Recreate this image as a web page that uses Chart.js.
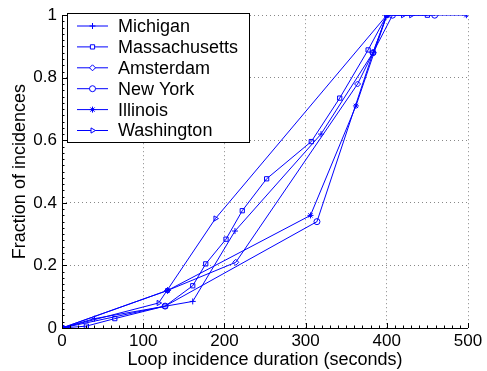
<!DOCTYPE html>
<html>
<head>
<meta charset="utf-8">
<script src="https://cdn.jsdelivr.net/npm/chart.js@4/dist/chart.umd.min.js"></script>
<style>
  html, body { margin: 0; padding: 0; background: #fff; }
  #wrap { width: 487px; height: 371px; }
</style>
</head>
<body>
<div id="wrap"><canvas id="chart"></canvas></div>
<script>
// Series values (x = seconds, y = fraction)
const michiganX = [0, 40, 161, 213, 319, 383, 400];
const michiganY = [0, 0.03, 0.085, 0.31, 0.62, 0.88, 1];
const massachusettsX = [0, 30, 65, 127, 161, 177, 202, 222, 252, 307, 342, 377, 400, 450];
const massachusettsY = [0, 0.006, 0.03, 0.07, 0.135, 0.205, 0.284, 0.375, 0.477, 0.596, 0.735, 0.889, 1, 1];
const amsterdamX = [0, 130, 214, 364, 383, 400];
const amsterdamY = [0, 0.12, 0.21, 0.78, 0.88, 1];
const newYorkX = [0, 127, 314, 383, 407, 459];
const newYorkY = [0, 0.07, 0.34, 0.88, 1, 1];
const illinoisX = [0, 130, 306, 362, 400, 498];
const illinoisY = [0, 0.12, 0.36, 0.71, 1, 1];
const washingtonX = [0, 119, 189, 400, 420, 430];
const washingtonY = [0, 0.08, 0.35, 1, 1, 1];

const xTicks = [0, 100, 200, 300, 400, 500];
const yTicks = [0, 0.2, 0.4, 0.6, 0.8, 1];

const blue = 'rgb(0,0,255)';
const font = 'Liberation Sans, Arial, sans-serif';

function toPoints(xs, ys) {
  return xs.map((x, i) => ({ x: x, y: ys[i] }));
}

function makeSet(label, xs, ys, style, rotation) {
  return {
    label: label,
    data: toPoints(xs, ys),
    borderColor: blue,
    backgroundColor: 'rgba(0,0,0,0)',
    borderWidth: 1,
    pointStyle: style,
    pointRotation: rotation || 0,
    pointRadius: 3,
    pointBorderColor: blue,
    pointBackgroundColor: 'rgba(0,0,0,0)',
    pointBorderWidth: 1,
    tension: 0
  };
}

const datasets = [
  makeSet('Michigan', michiganX, michiganY, 'cross'),
  makeSet('Massachusetts', massachusettsX, massachusettsY, 'rect'),
  makeSet('Amsterdam', amsterdamX, amsterdamY, 'rectRot'),
  makeSet('New York', newYorkX, newYorkY, 'circle'),
  makeSet('Illinois', illinoisX, illinoisY, 'star'),
  makeSet('Washington', washingtonX, washingtonY, 'triangle', 90)
];

// Axis lines, inward ticks and minor ticks, like the original plot
const axesPlugin = {
  id: 'axesPlugin',
  afterDraw(chart) {
    const ctx = chart.ctx;
    const a = chart.chartArea;
    const xs = chart.scales.x;
    const ys = chart.scales.y;
    ctx.save();
    ctx.strokeStyle = '#000';
    ctx.lineWidth = 1;
    ctx.beginPath();
    ctx.moveTo(a.left + 0.5, a.top);
    ctx.lineTo(a.left + 0.5, a.bottom + 0.5);
    ctx.lineTo(a.right, a.bottom + 0.5);
    ctx.stroke();
    ctx.beginPath();
    for (let v = 0; v <= 500; v += 10) {
      const px = Math.round(xs.getPixelForValue(v)) + 0.5;
      const len = v % 100 === 0 ? 5 : 2.5;
      ctx.moveTo(px, a.bottom);
      ctx.lineTo(px, a.bottom - len);
    }
    for (let i = 0; i <= 50; i++) {
      const v = i / 50;
      const py = Math.round(ys.getPixelForValue(v)) + 0.5;
      const len = i % 10 === 0 ? 5 : 2.5;
      ctx.moveTo(a.left, py);
      ctx.lineTo(a.left + len, py);
    }
    ctx.stroke();
    ctx.restore();
  }
};

// Legend box drawn inside the plot, top left
const legendPlugin = {
  id: 'legendBox',
  afterDraw(chart) {
    const ctx = chart.ctx;
    const left = 67.5, top = 13.5, w = 182, h = 129;
    ctx.save();
    ctx.fillStyle = '#fff';
    ctx.fillRect(left, top, w, h);
    ctx.strokeStyle = '#000';
    ctx.lineWidth = 1;
    ctx.strokeRect(left, top, w, h);
    ctx.font = '18px ' + font;
    ctx.textBaseline = 'middle';
    chart.data.datasets.forEach((ds, i) => {
      const y = 26 + i * 20.9;
      ctx.strokeStyle = blue;
      ctx.lineWidth = 1;
      ctx.beginPath();
      ctx.moveTo(77, y);
      ctx.lineTo(108, y);
      ctx.stroke();
      ctx.fillStyle = '#fff';
      Chart.helpers.drawPoint(ctx, {
        pointStyle: ds.pointStyle,
        rotation: ds.pointRotation,
        radius: 3,
        borderWidth: 1
      }, 92.5, y);
      ctx.fillStyle = '#000';
      ctx.fillText(ds.label, 118, y + 1);
    });
    ctx.restore();
  }
};

new Chart(document.getElementById('chart'), {
  type: 'line',
  data: { datasets: datasets },
  plugins: [axesPlugin, legendPlugin],
  options: {
    responsive: true,
    maintainAspectRatio: false,
    animation: false,
    layout: { padding: { left: 0, right: 19, top: 9, bottom: 0 } },
    plugins: {
      legend: { display: false },
      tooltip: { enabled: false }
    },
    scales: {
      x: {
        type: 'linear',
        min: 0,
        max: 500,
        afterFit(scale) { scale.height = 43; },
        afterBuildTicks(scale) { scale.ticks = xTicks.map(v => ({ value: v })); },
        border: { display: false, dash: [1, 3] },
        grid: {
          color: '#888',
          lineWidth: 1,
          drawTicks: false
        },
        ticks: {
          color: '#000',
          font: { size: 17, family: font },
          padding: 3,
          maxRotation: 0
        },
        title: {
          display: true,
          text: 'Loop incidence duration (seconds)',
          color: '#000',
          font: { size: 18, family: font },
          padding: { top: 0, bottom: 0 }
        }
      },
      y: {
        type: 'linear',
        min: 0,
        max: 1,
        afterFit(scale) { scale.width = 62; },
        afterBuildTicks(scale) { scale.ticks = yTicks.map(v => ({ value: v })); },
        border: { display: false, dash: [1, 3] },
        grid: {
          color: '#888',
          lineWidth: 1,
          drawTicks: false
        },
        ticks: {
          color: '#000',
          font: { size: 17, family: font },
          padding: 5,
          callback: v => String(v)
        },
        title: {
          display: true,
          text: 'Fraction of incidences',
          color: '#000',
          font: { size: 18, family: font },
          padding: { top: 9, bottom: 0 }
        }
      }
    }
  }
});
</script>
</body>
</html>
